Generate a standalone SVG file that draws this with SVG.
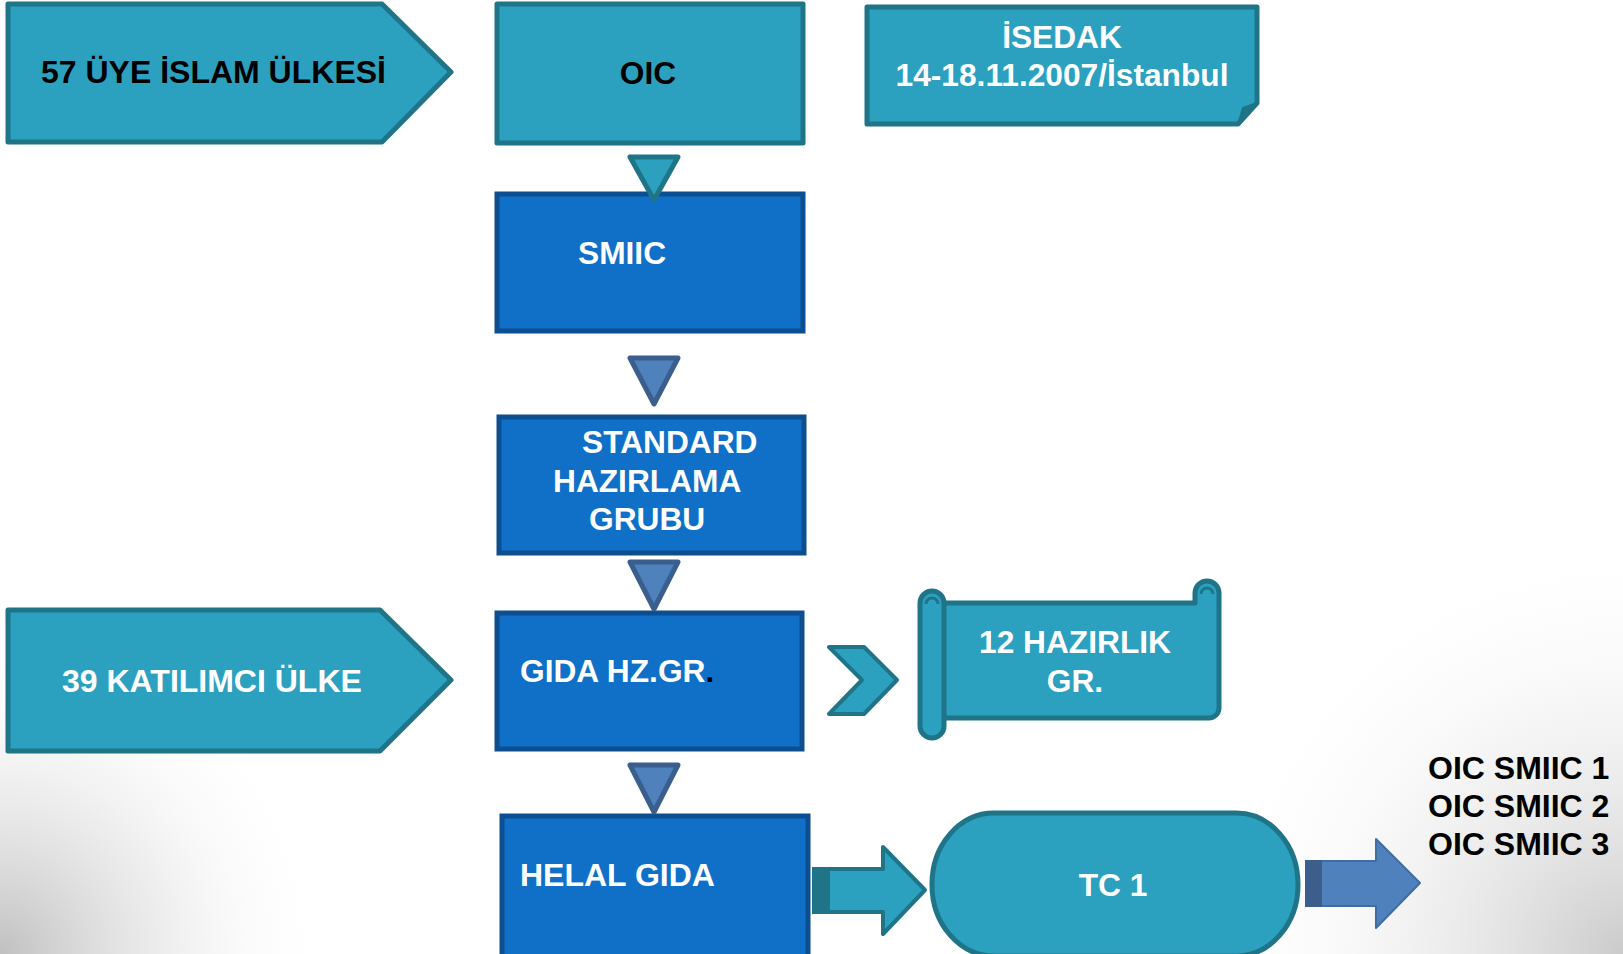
<svg xmlns="http://www.w3.org/2000/svg" width="1623" height="954" viewBox="0 0 1623 954">
<defs>
<radialGradient id="bgL" cx="0" cy="954" r="330" gradientUnits="userSpaceOnUse">
<stop offset="0" stop-color="#969696" stop-opacity="0.6"/>
<stop offset="0.5" stop-color="#c4c4c4" stop-opacity="0.3"/>
<stop offset="1" stop-color="#ffffff" stop-opacity="0"/>
</radialGradient>
<radialGradient id="bgR" cx="1623" cy="954" r="420" gradientUnits="userSpaceOnUse">
<stop offset="0" stop-color="#a8a8a8" stop-opacity="0.6"/>
<stop offset="0.5" stop-color="#d0d0d0" stop-opacity="0.3"/>
<stop offset="1" stop-color="#ffffff" stop-opacity="0"/>
</radialGradient>
<style>
.t{fill:#2CA1BF;stroke:#1F7488;stroke-width:5;stroke-linejoin:round}
.b{fill:#1070C7;stroke:#0C4E90;stroke-width:5}
.tri{fill:#2CA1BF;stroke:#1F7488;stroke-width:5;stroke-linejoin:round}
.trib{fill:#4F81BD;stroke:#3A5F8C;stroke-width:5;stroke-linejoin:round}
text{font-family:"Liberation Sans",Arial,sans-serif;font-weight:bold;font-size:31.7px}
.w{fill:#ffffff}
.k{fill:#000000}
.big{font-size:32px}
</style>
</defs>
<rect width="1623" height="954" fill="#ffffff"/>
<rect width="1623" height="954" fill="url(#bgL)"/>
<rect width="1623" height="954" fill="url(#bgR)"/>

<g id="uye">
<path class="t" d="M8 4 H382 L451 72 L382 142 H8 Z"/>
<text class="k big" x="41" y="83">57 ÜYE İSLAM ÜLKESİ</text>
</g>

<g id="oic">
<rect class="t" x="497" y="4" width="306" height="139"/>
<text class="k" x="648" y="84" text-anchor="middle">OIC</text>
</g>

<g id="isedak">
<path class="t" d="M867 7 H1257 V103 L1238 124 H867 Z"/>
<path d="M1238 124 L1243 108 L1257 103 Z" fill="#1F7488" stroke="#1F7488" stroke-width="2" stroke-linejoin="round"/>
<text class="w" x="1062" y="48" text-anchor="middle">İSEDAK</text>
<text class="w" x="1062" y="86" text-anchor="middle">14-18.11.2007/İstanbul</text>
</g>

<g id="smiic">
<rect class="b" x="497" y="194" width="306" height="137"/>
<text class="w" x="578" y="264">SMIIC</text>
</g>

<g id="standard">
<rect class="b" x="499" y="417" width="305" height="136"/>
<text class="w" x="582" y="453">STANDARD</text>
<text class="w" x="553" y="492">HAZIRLAMA</text>
<text class="w" x="589" y="530">GRUBU</text>
</g>

<g id="katilimci">
<path class="t" d="M8 610 H380 L451 680 L380 751 H8 Z"/>
<text class="w big" x="62" y="692">39 KATILIMCI ÜLKE</text>
</g>

<g id="gida">
<rect class="b" x="497" y="613" width="305" height="136"/>
<text class="w" x="520" y="682">GIDA HZ.GR<tspan class="k">.</tspan></text>
</g>

<g id="hazirlik">
<path class="t" d="M932 603 H1195 V593 A12 12 0 0 1 1219 593 V708 A10 10 0 0 1 1209 718 H944 Z"/>
<rect class="t" x="920" y="591" width="24" height="147" rx="12" ry="12"/>
<path d="M926 604 A6 6 0 1 1 938 604" fill="none" stroke="#1F7488" stroke-width="3"/>
<path d="M1201 594 A6 6 0 1 1 1213 594" fill="none" stroke="#1F7488" stroke-width="3"/>
<text class="w" x="1075" y="653" text-anchor="middle">12 HAZIRLIK</text>
<text class="w" x="1075" y="692" text-anchor="middle">GR.</text>
</g>

<g id="helal">
<rect class="b" x="502" y="816" width="306" height="142"/>
<text class="w big" x="520" y="886">HELAL GIDA</text>
</g>

<g id="tc1">
<rect class="t" x="932" y="813" width="366" height="143" rx="62" ry="71"/>
<text class="w" x="1113" y="896" text-anchor="middle">TC 1</text>
</g>

<g id="oicsmiic">
<text class="k big" x="1428" y="779">OIC SMIIC 1</text>
<text class="k big" x="1428" y="817">OIC SMIIC 2</text>
<text class="k big" x="1428" y="855">OIC SMIIC 3</text>
</g>

<g id="connectors">
<path class="tri" d="M630 157 H678 L654 200 Z"/>
<path class="trib" d="M630 358 H678 L654 404 Z"/>
<path class="trib" d="M630 562 H678 L654 609 Z"/>
<path class="trib" d="M630 765 H678 L654 812 Z"/>
<path class="t" style="stroke-width:4" d="M829 647 H864 L897 680 L864 714 H829 L862 680 Z"/>
<path class="t" style="stroke-width:4" d="M814 869 H883 V847 L925 890 L883 934 V912 H814 Z"/>
<rect x="812" y="867" width="18" height="47" fill="#1F7488"/>
<path d="M1306 861 H1376 V839 L1420 883 L1376 928 V906 H1306 Z" fill="#4F81BD" stroke="#3F6DA3" stroke-width="2" stroke-linejoin="round"/>
<rect x="1305" y="860" width="17" height="47" fill="#3B5E8C"/>
</g>
</svg>
